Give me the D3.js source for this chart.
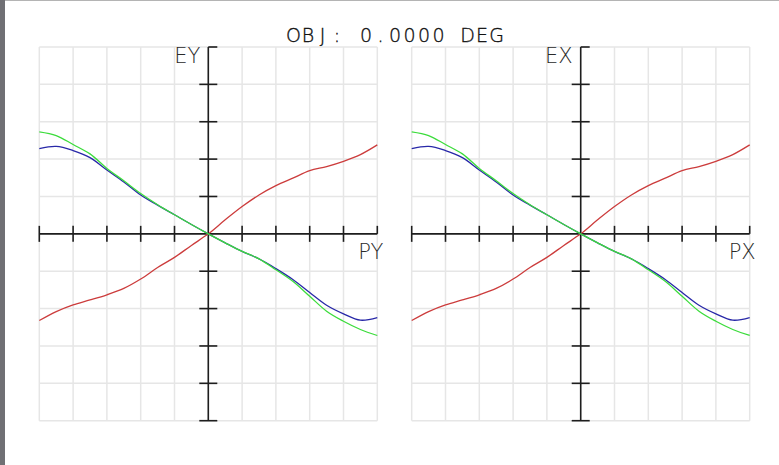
<!DOCTYPE html>
<html>
<head>
<meta charset="utf-8">
<script src="https://cdn.jsdelivr.net/npm/d3@7"></script>
<style>
  html, body { margin: 0; padding: 0; background: #fff; }
  svg { display: block; }
</style>
</head>
<body>
<svg id="chart" width="779" height="465"></svg>
<script>
// ---- data (pupil coordinate in grid units, aberration in grid units) ----
const pupil = [-5,-4.5,-4,-3.5,-3,-2.5,-2,-1.5,-1,-0.5,0,0.5,1,1.5,2,2.5,3,3.5,4,4.5,5];
const redSeries   = [-2.32,-2.08,-1.90,-1.77,-1.63,-1.46,-1.21,-0.90,-0.63,-0.31,0,0.375,0.73,1.04,1.29,1.49,1.69,1.80,1.94,2.12,2.38];
const blueSeries  = [2.28,2.34,2.23,2.04,1.71,1.39,1.04,0.77,0.51,0.25,0,-0.24,-0.47,-0.67,-0.93,-1.22,-1.57,-1.91,-2.14,-2.31,-2.24];
const greenSeries = [2.73,2.63,2.39,2.14,1.75,1.42,1.08,0.78,0.51,0.25,0,-0.24,-0.47,-0.67,-0.96,-1.27,-1.67,-2.07,-2.34,-2.56,-2.72];
const gridTicks = [-5,-4,-3,-2,-1,0,1,2,3,4,5];
const panels = [
  { yLabel: "EY", xLabel: "PY" },
  { yLabel: "EX", xLabel: "PX" }
];
const title = "OBJ: 0.0000 DEG";

// ---- drawing ----
const svg = d3.select("#chart");
svg.append("rect").attr("x",0).attr("y",0).attr("width",779).attr("height",465).attr("fill","#fff");
svg.append("rect").attr("x",0).attr("y",0).attr("width",779).attr("height",1).attr("fill","#b4b4b4");
svg.append("rect").attr("x",0).attr("y",0).attr("width",5).attr("height",465).attr("fill","#707074");

// title: fixed-pitch layout of thin glyphs
const pitch = 14.5, firstCenter = 293.5;
svg.append("text")
  .attr("y", 42)
  .attr("text-anchor", "middle")
  .attr("font-family", "DejaVu Sans, sans-serif")
  .attr("font-size", 19)
  .attr("font-weight", 200)
  .attr("fill", "#111")
  .attr("stroke", "#111")
  .attr("stroke-width", 0.35)
  .selectAll("tspan")
  .data(Array.from(title))
  .enter().append("tspan")
  .attr("x", (c, k) => firstCenter + k * pitch)
  .text(c => c);

const panelLeft = [39.3, 411.7];
const W = 338, plotTop = 47, plotBottom = 420.7;
const seriesDefs = [
  { values: redSeries,   color: "#cc3c3c" },
  { values: blueSeries,  color: "#2828a8" },
  { values: greenSeries, color: "#3cdc3c" }
];

panels.forEach((p, i) => {
  const x = d3.scaleLinear().domain([-5,5]).range([panelLeft[i], panelLeft[i] + W]);
  const y = d3.scaleLinear().domain([-5,5]).range([plotBottom, plotTop]);
  const g = svg.append("g");

  // grid
  g.selectAll(".vg").data(gridTicks).enter().append("line")
    .attr("x1", d => x(d)).attr("x2", d => x(d))
    .attr("y1", plotTop).attr("y2", plotBottom)
    .attr("stroke", "#e6e6e6").attr("stroke-width", 1.5);
  g.selectAll(".hg").data(gridTicks).enter().append("line")
    .attr("x1", x(-5)).attr("x2", x(5))
    .attr("y1", d => y(d)).attr("y2", d => y(d))
    .attr("stroke", "#e6e6e6").attr("stroke-width", 1.5);

  const axisColor = "#1e1e1e";
  // axes
  g.append("line").attr("x1", x(-5)).attr("x2", x(5)).attr("y1", y(0)).attr("y2", y(0))
    .attr("stroke", axisColor).attr("stroke-width", 1.6);
  g.append("line").attr("x1", x(0)).attr("x2", x(0)).attr("y1", y(5)).attr("y2", y(-5))
    .attr("stroke", axisColor).attr("stroke-width", 1.6);

  // x ticks
  gridTicks.filter(d => d !== 0).forEach(d => {
    g.append("line").attr("x1", x(d)).attr("x2", x(d))
      .attr("y1", y(0) - 8).attr("y2", d === 5 ? y(0) : y(0) + 8)
      .attr("stroke", axisColor).attr("stroke-width", 1.6);
  });
  // y ticks
  gridTicks.filter(d => d !== 0).forEach(d => {
    g.append("line").attr("x1", d === 5 ? x(0) : x(0) - 9).attr("x2", x(0) + 9)
      .attr("y1", y(d)).attr("y2", y(d))
      .attr("stroke", axisColor).attr("stroke-width", 1.6);
  });

  // labels
  g.append("text").attr("x", x(0) - 8).attr("y", 63)
    .attr("text-anchor", "end")
    .attr("font-family", "DejaVu Sans, sans-serif").attr("font-size", 21)
    .attr("font-weight", 200)
    .attr("fill", "#2a2a2a").text(p.yLabel);
  g.append("text").attr("x", x(5) + 6).attr("y", 259)
    .attr("text-anchor", "end")
    .attr("font-family", "DejaVu Sans, sans-serif").attr("font-size", 21)
    .attr("font-weight", 200)
    .attr("fill", "#2a2a2a").text(p.xLabel);

  // curves
  const line = d3.line()
    .x((d, k) => x(pupil[k]))
    .y(d => y(d))
    .curve(d3.curveCatmullRom.alpha(0.5));
  seriesDefs.forEach(s => {
    g.append("path").datum(s.values)
      .attr("d", line)
      .attr("fill", "none")
      .attr("stroke", s.color)
      .attr("stroke-width", 1.3);
  });
});
</script>
</body>
</html>
